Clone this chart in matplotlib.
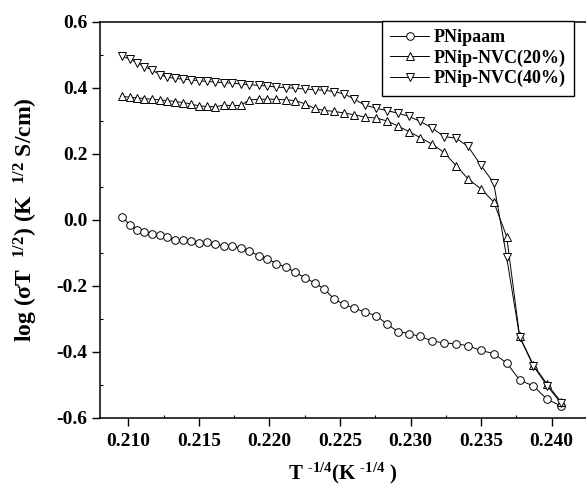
import numpy as np
import matplotlib
matplotlib.use('Agg')
import matplotlib.pyplot as plt
from matplotlib.ticker import MultipleLocator, FormatStrFormatter

plt.rcParams['font.family'] = ['Liberation Serif', 'DejaVu Serif']
plt.rcParams['font.weight'] = 'bold'
plt.rcParams['mathtext.default'] = 'regular'
plt.rcParams['axes.unicode_minus'] = False

# T^-1/4 values shared by the three samples
x = [0.20957, 0.21012, 0.21064, 0.21113, 0.21168, 0.21225, 0.21276, 0.21331, 0.21388,
     0.21442, 0.21499, 0.21558, 0.21616, 0.21676, 0.21735, 0.21796, 0.21857, 0.21924,
     0.21985, 0.22049, 0.22117, 0.22183, 0.22252, 0.22321, 0.22389, 0.22460, 0.22531,
     0.22601, 0.22677, 0.22757, 0.22835, 0.22909, 0.22989, 0.23067, 0.23152, 0.23237,
     0.23322, 0.23407, 0.23497, 0.23589, 0.23681, 0.23773, 0.23870, 0.23967, 0.24064]

pnipaam = [0.010, -0.015, -0.029, -0.035, -0.041, -0.046, -0.051, -0.060, -0.062,
           -0.065, -0.069, -0.067, -0.073, -0.078, -0.078, -0.085, -0.094, -0.108,
           -0.117, -0.132, -0.143, -0.158, -0.175, -0.191, -0.209, -0.240, -0.256,
           -0.267, -0.279, -0.290, -0.316, -0.338, -0.344, -0.353, -0.366, -0.373,
           -0.375, -0.381, -0.395, -0.405, -0.433, -0.485, -0.503, -0.543, -0.563]

nvc20 = [0.375, 0.372, 0.370, 0.368, 0.366, 0.364, 0.362, 0.359, 0.356,
         0.352, 0.346, 0.344, 0.343, 0.348, 0.347, 0.347, 0.364, 0.366,
         0.366, 0.366, 0.364, 0.362, 0.352, 0.338, 0.332, 0.329, 0.324,
         0.319, 0.312, 0.309, 0.300, 0.285, 0.268, 0.250, 0.230, 0.205,
         0.165, 0.125, 0.095, 0.055, -0.050, -0.353, -0.439, -0.497, -0.550]

nvc40 = [0.496, 0.488, 0.476, 0.465, 0.455, 0.440, 0.433, 0.429, 0.427,
         0.425, 0.422, 0.420, 0.418, 0.416, 0.415, 0.412, 0.410, 0.408,
         0.406, 0.403, 0.401, 0.399, 0.397, 0.395, 0.393, 0.389, 0.382,
         0.366, 0.348, 0.339, 0.331, 0.324, 0.314, 0.299, 0.279, 0.253,
         0.248, 0.223, 0.167, 0.112, -0.113, -0.355, -0.442, -0.502, -0.554]

labels = ['PNipaam', 'PNip-NVC(20%)', 'PNip-NVC(40%)']
markers = ['o', '^', 'v']

fig = plt.figure(figsize=(5.86, 4.87), dpi=100)
ax = fig.add_axes([100/586, 69/487, 486/586, 396/487])

for ys, m, lab in zip([pnipaam, nvc20, nvc40], markers, labels):
    ms = 5.5 if m == 'o' else 6.3
    ax.plot(x, ys, color='black', lw=0.7, marker=m, ms=ms, mfc='white',
            mec='black', mew=0.7, label=lab)

ax.set_xlim(0.208, 0.24243)
ax.set_ylim(-0.6, 0.6)
ax.xaxis.set_major_locator(MultipleLocator(0.005))
ax.xaxis.set_minor_locator(MultipleLocator(0.0025))
ax.yaxis.set_major_locator(MultipleLocator(0.2))
ax.yaxis.set_minor_locator(MultipleLocator(0.1))
ax.xaxis.set_major_formatter(FormatStrFormatter('%.3f'))
ax.yaxis.set_major_formatter(FormatStrFormatter('%.1f'))
ax.tick_params(which='major', direction='out', length=5.5, width=1, labelsize=14)
ax.tick_params(axis='x', which='major', pad=5)
ax.tick_params(which='minor', direction='in', length=2, width=0.8)
ax.spines['right'].set_visible(False)
for s in ['left', 'bottom', 'top']:
    ax.spines[s].set_linewidth(1.1)

ax.set_xlabel('T $^{\u2010 1/4}$(K $^{\u2010 1/4}$ )', fontsize=15, fontweight='bold', labelpad=8)
ax.set_ylabel(r'log (σT  $^{1/2}$) (K  $^{1/2}$ S/cm)', fontsize=17, fontweight='bold', labelpad=12)

leg = ax.legend(loc='upper right', bbox_to_anchor=(474/486, 1.003), borderaxespad=0,
                fancybox=False, framealpha=1, edgecolor='black', numpoints=1,
                prop={'size': 13, 'weight': 'bold'}, handlelength=2.2,
                handletextpad=0.25, labelspacing=0.19, borderpad=0.45)
leg.get_frame().set_linewidth(1.0)

fig.savefig('out.png', dpi=100)
